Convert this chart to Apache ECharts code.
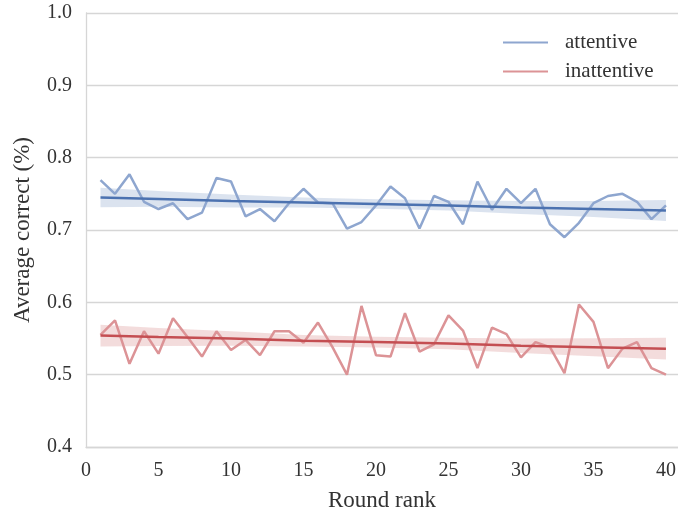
<!DOCTYPE html>
<html>
<head>
<meta charset="utf-8">
<script src="https://cdn.jsdelivr.net/npm/echarts@6/dist/echarts.min.js"></script>
<style>
  html, body { margin: 0; padding: 0; background: #fff; }
  #chart { width: 678px; height: 512px; }
</style>
</head>
<body>
<div id="chart"></div>
<script>
// Average correct per round rank, attentive vs inattentive participants
const rounds = Array.from({ length: 40 }, (_, i) => i + 1);

const attentive = [
  0.769, 0.750, 0.777, 0.739, 0.729, 0.737, 0.715, 0.724, 0.772, 0.767,
  0.719, 0.729, 0.712, 0.737, 0.757, 0.738, 0.737, 0.702, 0.711, 0.734,
  0.760, 0.744, 0.702, 0.747, 0.739, 0.708, 0.767, 0.728, 0.757, 0.737,
  0.757, 0.708, 0.690, 0.710, 0.737, 0.747, 0.750, 0.739, 0.715, 0.734
];

const inattentive = [
  0.555, 0.575, 0.515, 0.560, 0.529, 0.578, 0.552, 0.525, 0.560, 0.534,
  0.548, 0.527, 0.560, 0.560, 0.544, 0.572, 0.538, 0.500, 0.595, 0.527,
  0.525, 0.585, 0.532, 0.542, 0.582, 0.561, 0.509, 0.565, 0.556, 0.524,
  0.545, 0.538, 0.502, 0.597, 0.573, 0.509, 0.536, 0.545, 0.509, 0.500
];

// Linear fit and its confidence band, sampled at these round ranks
const fitX = [1, 5, 10, 15, 20, 25, 30, 35, 40];

const attentiveFit   = [0.745, 0.743, 0.740, 0.738, 0.736, 0.734, 0.731, 0.729, 0.727];
const attentiveLow   = [0.7315, 0.732, 0.731, 0.731, 0.7295, 0.727, 0.722, 0.718, 0.7125];
const attentiveHigh  = [0.7585, 0.754, 0.749, 0.745, 0.7425, 0.741, 0.740, 0.740, 0.7415];

const inattentiveFit  = [0.554, 0.552, 0.550, 0.547, 0.545, 0.543, 0.540, 0.538, 0.536];
const inattentiveLow  = [0.539, 0.5395, 0.540, 0.539, 0.5375, 0.535, 0.530, 0.5255, 0.521];
const inattentiveHigh = [0.569, 0.5645, 0.560, 0.555, 0.5525, 0.551, 0.550, 0.5505, 0.551];

const xTicks = [0, 5, 10, 15, 20, 25, 30, 35, 40];
const yTicks = [0.4, 0.5, 0.6, 0.7, 0.8, 0.9, 1.0];

const BLUE = '#4c72b0';
const RED = '#c44e52';
const BLUE_LIGHT = '#8ea6cf';
const RED_LIGHT = '#dc9396';
const FONT = '"Liberation Serif", "DejaVu Serif", serif';
const TEXT = '#333333';
const GRID = '#d6d6d6';

const pairs = (xs, ys) => xs.map((x, i) => [x, ys[i]]);

// Confidence band drawn as one polygon through the axis scales
function band(name, lo, hi, color) {
  return {
    name: name, type: 'custom', silent: true, z: 1,
    data: [[fitX[0], lo[0]]],
    renderItem: (params, api) => {
      const upper = fitX.map((x, i) => api.coord([x, hi[i]]));
      const lower = fitX.map((x, i) => api.coord([x, lo[i]])).reverse();
      return {
        type: 'polygon',
        shape: { points: upper.concat(lower) },
        style: { fill: color, opacity: 0.2 }
      };
    }
  };
}

const chart = echarts.init(document.getElementById('chart'), null, { renderer: 'canvas' });

chart.setOption({
  animation: false,
  backgroundColor: '#ffffff',
  textStyle: { fontFamily: FONT },
  grid: { left: 86, top: 13, right: 0, bottom: 65, containLabel: false, outerBoundsMode: 'none' },
  legend: {
    data: [
      { name: 'attentive', icon: 'rect', itemStyle: { color: BLUE_LIGHT } },
      { name: 'inattentive', icon: 'rect', itemStyle: { color: RED_LIGHT } }
    ],
    orient: 'vertical',
    left: 503, top: 32, padding: 0,
    itemWidth: 45, itemHeight: 2, itemGap: 8,
    textStyle: { fontFamily: FONT, fontSize: 21, color: TEXT, lineHeight: 20, padding: [0, 0, 0, 12] }
  },
  xAxis: {
    type: 'value',
    min: 0, max: 40.83, interval: 5,
    name: 'Round rank',
    nameLocation: 'middle', nameGap: 42,
    nameTextStyle: { fontFamily: FONT, fontSize: 23, color: TEXT },
    axisLine: { show: true, onZero: false, lineStyle: { color: GRID, width: 1.3 } },
    axisTick: { show: false },
    splitLine: { show: false },
    axisLabel: {
      margin: 14, fontFamily: FONT, fontSize: 20, color: TEXT,
      showMaxLabel: false,
      formatter: v => (xTicks.includes(v) ? String(v) : '')
    }
  },
  yAxis: {
    type: 'value',
    min: 0.4, max: 1.0, interval: 0.1,
    name: 'Average correct (%)',
    nameLocation: 'middle', nameGap: 52,
    nameTextStyle: { fontFamily: FONT, fontSize: 23, color: TEXT },
    axisLine: { show: true, lineStyle: { color: GRID, width: 1.3 } },
    axisTick: { show: false },
    splitLine: { show: true, lineStyle: { color: GRID, width: 1.3 } },
    axisLabel: {
      margin: 14, fontFamily: FONT, fontSize: 20, color: TEXT,
      formatter: v => {
        const t = yTicks.find(y => Math.abs(y - v) < 1e-6);
        return t === undefined ? '' : t.toFixed(1);
      }
    }
  },
  series: [
    band('attentive band', attentiveLow, attentiveHigh, BLUE),
    band('inattentive band', inattentiveLow, inattentiveHigh, RED),
    {
      name: 'attentive', type: 'line', symbol: 'none', z: 3,
      data: pairs(rounds, attentive),
      color: BLUE_LIGHT,
      lineStyle: { color: BLUE_LIGHT, width: 2.5 }
    },
    {
      name: 'inattentive', type: 'line', symbol: 'none', z: 3,
      data: pairs(rounds, inattentive),
      color: RED_LIGHT,
      lineStyle: { color: RED_LIGHT, width: 2.5 }
    },
    {
      name: 'attentive fit', type: 'line', symbol: 'none', z: 4,
      data: pairs(fitX, attentiveFit),
      lineStyle: { color: BLUE, width: 2.5 }
    },
    {
      name: 'inattentive fit', type: 'line', symbol: 'none', z: 4,
      data: pairs(fitX, inattentiveFit),
      lineStyle: { color: RED, width: 2.5 }
    }
  ]
});
</script>
</body>
</html>
